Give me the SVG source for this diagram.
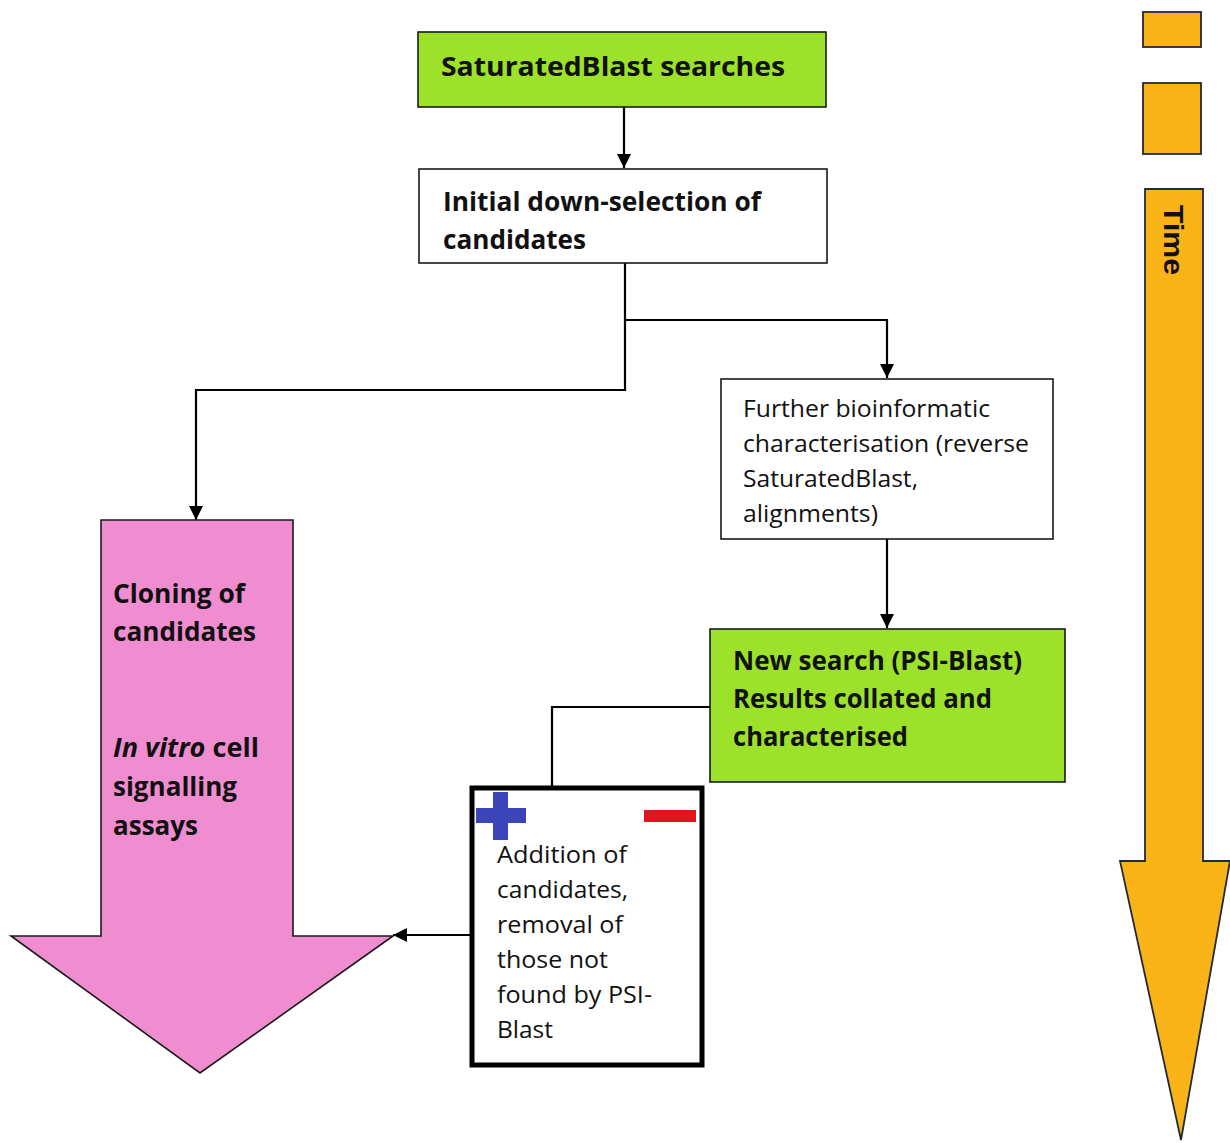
<svg xmlns="http://www.w3.org/2000/svg" width="1230" height="1143" viewBox="0 0 1230 1143">
  <defs>
    <marker id="arrow" viewBox="0 0 10 10" refX="10" refY="5" markerWidth="14" markerHeight="14" markerUnits="userSpaceOnUse" orient="auto">
      <path d="M0,0 L10,5 L0,10 z" fill="#000"/>
    </marker>
    <style>
      .box { stroke: #1a1a1a; stroke-width: 1.6; }
      .green { fill: #9de22a; }
      .white { fill: #ffffff; }
      .orange { fill: #fbb418; stroke: #1f2a3a; stroke-width: 1.8; }
      .pink { fill: #f08dd0; stroke: #1a1a1a; stroke-width: 1.6; }
      .conn { fill: none; stroke: #000; stroke-width: 2.2; }
      text { font-family: "Open Sans", "Noto Sans", sans-serif; fill: #111; }
      .b { font-weight: bold; font-size: 27px; }
      .r { font-size: 23px; }
    </style>
  </defs>
  <rect width="1230" height="1143" fill="#fff"/>

  <!-- timeline on the right -->
  <g id="time">
    <rect class="orange" x="1143" y="12" width="58" height="35"/>
    <rect class="orange" x="1143" y="83" width="58" height="71"/>
    <path class="orange" d="M1145,189 L1203,189 L1203,861 L1230,861 L1181,1140 L1120,861 L1145,861 Z"/>
    <text class="b" transform="translate(1164,240) rotate(90)" text-anchor="middle" font-size="28" textLength="70" lengthAdjust="spacingAndGlyphs" style="font-family:'Liberation Sans',sans-serif;font-weight:bold">Time</text>
  </g>

  <!-- connectors -->
  <g id="connectors">
    <line class="conn" x1="624" y1="107" x2="624" y2="168" marker-end="url(#arrow)"/>
    <polyline class="conn" points="625,263 625,390 196,390 196,520" marker-end="url(#arrow)"/>
    <polyline class="conn" points="625,320 887,320 887,378" marker-end="url(#arrow)"/>
    <line class="conn" x1="887" y1="539" x2="887" y2="628" marker-end="url(#arrow)"/>
    <polyline class="conn" points="710,707 552,707 552,786"/>
    <line class="conn" x1="470" y1="935" x2="393" y2="935" marker-end="url(#arrow)"/>
  </g>

  <g id="saturated-blast">
    <rect class="box green" x="418" y="32" width="408" height="75"/>
    <text class="b" x="441" y="76" textLength="344" lengthAdjust="spacingAndGlyphs">SaturatedBlast searches</text>
  </g>

  <g id="initial-selection">
    <rect class="box white" x="419" y="169" width="408" height="94"/>
    <text class="b" x="443" y="211" textLength="318" lengthAdjust="spacingAndGlyphs">Initial down-selection of</text>
    <text class="b" x="443" y="249" textLength="143" lengthAdjust="spacingAndGlyphs">candidates</text>
  </g>

  <g id="further-characterisation">
    <rect class="box white" x="721" y="379" width="332" height="160"/>
    <text class="r" x="743" y="417" textLength="247" lengthAdjust="spacingAndGlyphs">Further bioinformatic</text>
    <text class="r" x="743" y="452" textLength="286" lengthAdjust="spacingAndGlyphs">characterisation (reverse</text>
    <text class="r" x="743" y="487" textLength="175" lengthAdjust="spacingAndGlyphs">SaturatedBlast,</text>
    <text class="r" x="743" y="522" textLength="135" lengthAdjust="spacingAndGlyphs">alignments)</text>
  </g>

  <g id="psi-blast">
    <rect class="box green" x="710" y="629" width="355" height="153"/>
    <text class="b" x="733" y="670" textLength="289" lengthAdjust="spacingAndGlyphs">New search (PSI-Blast)</text>
    <text class="b" x="733" y="708" textLength="259" lengthAdjust="spacingAndGlyphs">Results collated and</text>
    <text class="b" x="733" y="746" textLength="175" lengthAdjust="spacingAndGlyphs">characterised</text>
  </g>

  <g id="addition-removal">
    <rect x="472" y="788" width="230" height="277" fill="#fff" stroke="#000" stroke-width="5"/>
    <rect x="476" y="808" width="50" height="15" fill="#3b44b8"/>
    <rect x="493" y="792" width="15" height="48" fill="#3b44b8"/>
    <rect x="644" y="810" width="52" height="12" fill="#e0141c"/>
    <text class="r" x="497" y="863" textLength="130" lengthAdjust="spacingAndGlyphs">Addition of</text>
    <text class="r" x="497" y="898" textLength="131" lengthAdjust="spacingAndGlyphs">candidates,</text>
    <text class="r" x="497" y="933" textLength="126" lengthAdjust="spacingAndGlyphs">removal of</text>
    <text class="r" x="497" y="968" textLength="111" lengthAdjust="spacingAndGlyphs">those not</text>
    <text class="r" x="497" y="1003" textLength="155" lengthAdjust="spacingAndGlyphs">found by PSI-</text>
    <text class="r" x="497" y="1038" textLength="56" lengthAdjust="spacingAndGlyphs">Blast</text>
  </g>

  <g id="cloning-assays">
    <path class="pink" d="M101,520 L293,520 L293,936 L393,936 L200,1073 L11,936 L101,936 Z"/>
    <text class="b" x="113" y="603" textLength="132" lengthAdjust="spacingAndGlyphs">Cloning of</text>
    <text class="b" x="113" y="641" textLength="143" lengthAdjust="spacingAndGlyphs">candidates</text>
    <text class="b" x="113" y="757" textLength="146" lengthAdjust="spacingAndGlyphs"><tspan font-style="italic">In vitro</tspan> cell</text>
    <text class="b" x="113" y="796" textLength="124" lengthAdjust="spacingAndGlyphs">signalling</text>
    <text class="b" x="113" y="835" textLength="85" lengthAdjust="spacingAndGlyphs">assays</text>
  </g>
</svg>
